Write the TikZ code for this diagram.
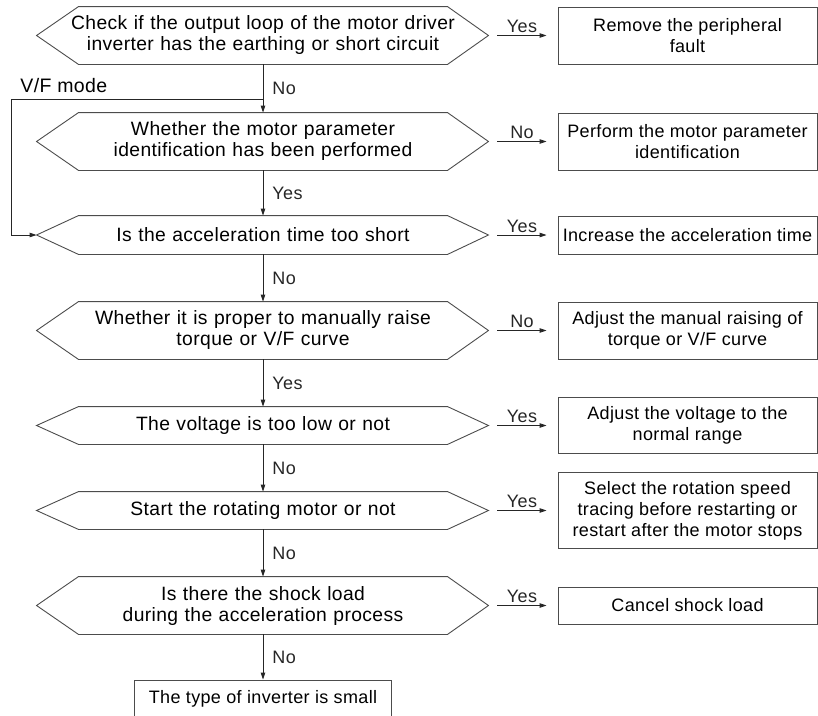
\documentclass[tikz,border=0pt]{standalone}
\usepackage{fontspec}
\setmainfont{Liberation Sans}[LetterSpace=2]
\usepackage{tikz}
\usetikzlibrary{arrows.meta}

% outline of a question box: flat top and bottom, pointed ends
\newcommand{\hexframe}[1]{%
  \draw[shape line] (#1.north west) -- (#1.north east) -- ([xshift=41pt]#1.east)
    -- (#1.south east) -- (#1.south west) -- ([xshift=-42pt]#1.west) -- cycle;}

\begin{document}
\begin{tikzpicture}[x=1pt, y=1pt, line width=0.9pt,
    font=\fontsize{18}{21}\selectfont,
    shape line/.style={draw=black!70},
    decision/.style={rectangle, inner sep=0pt, text width=368pt, align=center,
      font=\fontsize{19.3}{21}\selectfont},
    action/.style={shape line, rectangle, inner sep=0pt, minimum width=259pt, align=center},
    flow/.style={-{Triangle[length=7pt,width=4.5pt]}, black!85}]
    \useasboundingbox (0,0) rectangle (818,-715);

    % Questions
    \node[decision, minimum height=57pt] (q1) at (263,-35.5) {\makebox[\linewidth]{Check if the output loop of the motor driver}\\\makebox[\linewidth]{inverter has the earthing or short circuit}};
    \node[decision, minimum height=57pt, below of=q1, node distance=106pt] (q2) {Whether the motor parameter\\identification has been performed};
    \node[decision, minimum height=38pt, below of=q2, node distance=93.5pt] (q3) {Is the acceleration time too short};
    \node[decision, minimum height=57pt, below of=q3, node distance=95.5pt] (q4) {Whether it is proper to manually raise\\torque or V/F curve};
    \node[decision, minimum height=37pt, below of=q4, node distance=95pt] (q5) {The voltage is too low or not};
    \node[decision, minimum height=37pt, below of=q5, node distance=85pt] (q6) {Start the rotating motor or not};
    \node[decision, minimum height=57pt, below of=q6, node distance=95pt] (q7) {Is there the shock load\\during the acceleration process};
    \node[action, minimum width=257pt, minimum height=37pt, below of=q7, node distance=93pt] (small) {The type of inverter is small};
    \foreach \q in {q1,q2,q3,q4,q5,q6,q7} {\hexframe{\q}}

    % Actions
    \node[action, minimum height=57pt, right of=q1, node distance=424.5pt] (a1) {Remove the peripheral\\fault};
    \node[action, minimum height=57pt, right of=q2, node distance=424.5pt] (a2) {Perform the motor parameter\\identification};
    \node[action, minimum height=38pt, right of=q3, node distance=424.5pt] (a3) {Increase the acceleration time};
    \node[action, minimum height=57pt, right of=q4, node distance=424.5pt] (a4) {Adjust the manual raising of\\torque or V/F curve};
    \node[action, minimum height=56pt, right of=q5, node distance=424.5pt] (a5) {Adjust the voltage to the\\normal range};
    \node[action, minimum height=76pt, right of=q6, node distance=424.5pt] (a6) {Select the rotation speed\\tracing before restarting or\\restart after the motor stops};
    \node[action, minimum height=37pt, right of=q7, node distance=424.5pt] (a7) {Cancel shock load};

    % Arrows down
    \draw[flow] (q1) -- node[right, inner sep=9pt] {No} (q2);
    \draw[flow] (q2) -- node[right, inner sep=9pt] {Yes} (q3);
    \draw[flow] (q3) -- node[right, inner sep=9pt] {No} (q4);
    \draw[flow] (q4) -- node[right, inner sep=9pt] {Yes} (q5);
    \draw[flow] (q5) -- node[right, inner sep=9pt] {No} (q6);
    \draw[flow] (q6) -- node[right, inner sep=9pt] {No} (q7);
    \draw[flow] (q7) -- node[right, inner sep=9pt] {No} (small);

    % Arrows right
    \draw[flow] ([xshift=50pt]q1.east) -- node[above, inner sep=2pt] {Yes} ([xshift=-11pt]a1.west);
    \draw[flow] ([xshift=50pt]q2.east) -- node[above, inner sep=2pt] {No} ([xshift=-11pt]a2.west);
    \draw[flow] ([xshift=50pt]q3.east) -- node[above, inner sep=2pt] {Yes} ([xshift=-11pt]a3.west);
    \draw[flow] ([xshift=50pt]q4.east) -- node[above, inner sep=2pt] {No} ([xshift=-11pt]a4.west);
    \draw[flow] ([xshift=50pt]q5.east) -- node[above, inner sep=2pt] {Yes} ([xshift=-11pt]a5.west);
    \draw[flow] ([xshift=50pt]q6.east) -- node[above, inner sep=2pt] {Yes} ([xshift=-11pt]a6.west);
    \draw[flow] ([xshift=50pt]q7.east) -- node[above, inner sep=2pt] {Yes} ([xshift=-11pt]a7.west);

    % V/F mode skip
    \coordinate (vf) at (q1.south |- 0,-99);
    \coordinate (bend) at (11,-99);
    \node[anchor=base west, inner sep=0pt, font=\fontsize{19.5}{21}\selectfont] (vflabel) at ([shift={(9pt,7pt)}]bend) {V/F mode};
    \draw[flow] (vf) -- (bend) |- ([xshift=-42pt]q3.west);
\end{tikzpicture}
\end{document}
